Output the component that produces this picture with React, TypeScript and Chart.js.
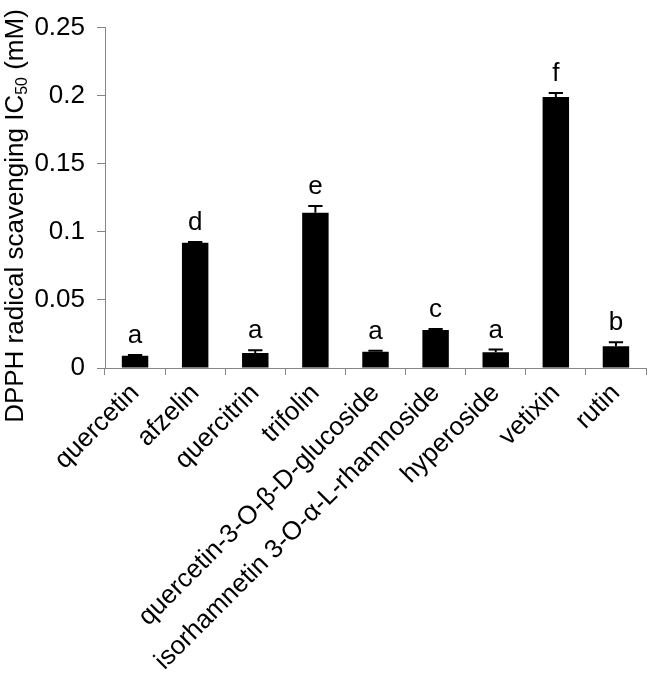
import React, { useEffect, useRef } from "react";
import { Chart, registerables } from "chart.js";

Chart.register(...registerables);

const categories = [
  "quercetin",
  "afzelin",
  "quercitrin",
  "trifolin",
  "quercetin-3-O-β-D-glucoside",
  "isorhamnetin 3-O-α-L-rhamnoside",
  "hyperoside",
  "vetixin",
  "rutin",
];
const values = [0.009, 0.092, 0.011, 0.114, 0.012, 0.028, 0.0115, 0.199, 0.016];
const errors = [0.0006, 0.0006, 0.002, 0.005, 0.0006, 0.0006, 0.002, 0.003, 0.003];
const letters = ["a", "d", "a", "e", "a", "c", "a", "f", "b"];
const yTicks = [0, 0.05, 0.1, 0.15, 0.2, 0.25];
const yTitleMain = "DPPH radical scavenging IC";
const yTitleSub = "50";
const yTitleEnd = " (mM)";

const FONT = "'Liberation Sans', Arial, sans-serif";
const AXIS = "#868686";

const overlayPlugin = {
  id: "overlay",
  afterDatasetsDraw(chart: any) {
    const ctx = chart.ctx;
    const y = chart.scales.y;
    const meta = chart.getDatasetMeta(0);
    ctx.save();
    ctx.strokeStyle = "#000";
    ctx.lineWidth = 2;
    meta.data.forEach((bar: any, i: number) => {
      const cx = bar.x;
      const top = y.getPixelForValue(values[i] + errors[i]);
      const base = y.getPixelForValue(values[i]);
      const half = bar.width * 0.27;
      ctx.beginPath();
      ctx.moveTo(cx, base);
      ctx.lineTo(cx, top);
      ctx.moveTo(cx - half, top);
      ctx.lineTo(cx + half, top);
      ctx.stroke();
      ctx.fillStyle = "#000";
      ctx.font = `26px ${FONT}`;
      ctx.textAlign = "center";
      ctx.textBaseline = "alphabetic";
      ctx.fillText(letters[i], cx, top - 12);
    });
    // y axis title with subscript
    ctx.translate(16, 216);
    ctx.rotate(-Math.PI / 2);
    const mainFont = `26px ${FONT}`;
    const subFont = `16px ${FONT}`;
    ctx.font = mainFont;
    const w1 = ctx.measureText(yTitleMain).width;
    const w3 = ctx.measureText(yTitleEnd).width;
    ctx.font = subFont;
    const w2 = ctx.measureText(yTitleSub).width;
    const total = w1 + w2 + w3;
    let px = -total / 2;
    ctx.textAlign = "left";
    ctx.textBaseline = "middle";
    ctx.fillStyle = "#000";
    ctx.font = mainFont;
    ctx.fillText(yTitleMain, px, 0);
    px += w1;
    ctx.font = subFont;
    ctx.fillText(yTitleSub, px, 7);
    px += w2;
    ctx.font = mainFont;
    ctx.fillText(yTitleEnd, px, 0);
    ctx.restore();
  },
};

export default function App() {
  const ref = useRef<HTMLCanvasElement | null>(null);
  useEffect(() => {
    document.body.style.margin = "0";
    const chart = new Chart(ref.current as HTMLCanvasElement, {
      type: "bar",
      data: {
        labels: categories,
        datasets: [
          {
            data: values,
            backgroundColor: "#000",
            borderWidth: 0,
            barPercentage: 0.44,
            categoryPercentage: 1,
          },
        ],
      },
      options: {
        animation: false,
        responsive: true,
        maintainAspectRatio: false,
        layout: { padding: { top: 16, right: 4, left: 0, bottom: 0 } },
        plugins: { legend: { display: false }, tooltip: { enabled: false } },
        scales: {
          x: {
            afterFit: (s: any) => {
              s.height = 314;
            },
            grid: {
              drawOnChartArea: false,
              drawTicks: true,
              tickLength: 7,
              color: AXIS,
              offset: true,
            },
            border: { color: AXIS, width: 1 },
            ticks: {
              minRotation: 45,
              maxRotation: 45,
              autoSkip: false,
              color: "#000",
              padding: 3,
              font: { family: FONT, size: 26 },
            },
          },
          y: {
            min: 0,
            max: 0.25,
            afterFit: (s: any) => {
              s.width = 105;
            },
            afterBuildTicks: (s: any) => {
              s.ticks = yTicks.map((v) => ({ value: v }));
            },
            grid: {
              drawOnChartArea: false,
              drawTicks: true,
              tickLength: 8,
              color: AXIS,
            },
            border: { color: AXIS, width: 1 },
            ticks: {
              color: "#000",
              padding: 12,
              font: { family: FONT, size: 26 },
              callback: (v: any) => String(Number(v)),
            },
          },
        },
      },
      plugins: [overlayPlugin],
    });
    return () => chart.destroy();
  }, []);
  return (
    <div style={{ width: 650, height: 682, position: "relative" }}>
      <canvas ref={ref} />
    </div>
  );
}
